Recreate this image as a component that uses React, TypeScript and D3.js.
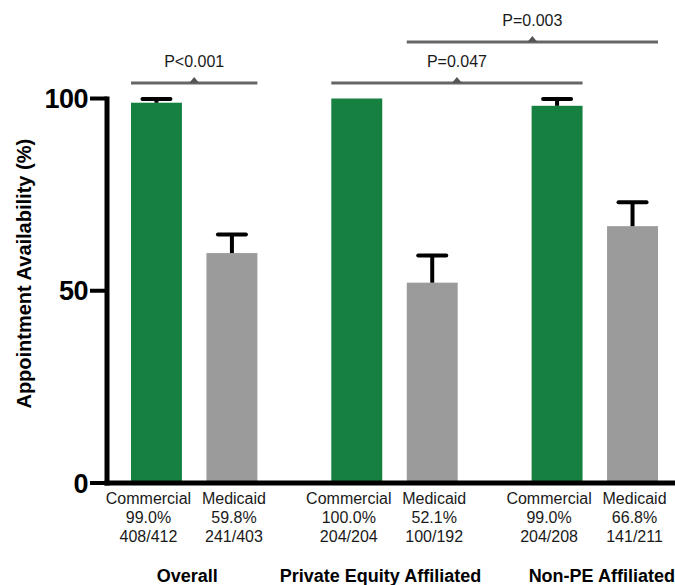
import React from "react";
import * as d3 from "d3";

const groups = ["Overall", "Private Equity Affiliated", "Non-PE Affiliated"];
const payers = ["Commercial", "Medicaid"];
// bar values (%) per group: [Commercial, Medicaid]
const commercialValues = [98.9, 100, 98.1];
const medicaidValues = [59.8, 52.1, 66.8];
// upper end of error bars (null = none drawn)
const commercialUpper = [99.9, null, 99.9];
const medicaidUpper = [64.6, 59.2, 73.0];
const commercialPct = ["99.0%", "100.0%", "99.0%"];
const medicaidPct = ["59.8%", "52.1%", "66.8%"];
const commercialN = ["408/412", "204/204", "204/208"];
const medicaidN = ["241/403", "100/192", "141/211"];
const yTicks = [0, 50, 100];
// comparisons: [fromGroup, fromPayer, toGroup, toPayer, level(%), label]
const compFrom = [[0, 0], [1, 0], [1, 1]];
const compTo = [[0, 1], [2, 0], [2, 1]];
const compLevel = [104, 104, 114.7];
const compLabel = ["P<0.001", "P=0.047", "P=0.003"];

const W = 675;
const H = 585;
const GREEN = "#15803f";
const GRAY = "#9b9b9b";
const groupLabelDx = [-7, -14, 7];
const payerLabelDx = [-8, 2];

export default function App() {
  const x0 = d3.scaleBand<number>().domain([0, 1, 2]).range([131, 658]).paddingInner(0.369).paddingOuter(0);
  const x1 = d3.scaleBand<number>().domain([0, 1]).range([0, x0.bandwidth()]).paddingInner(0.325).paddingOuter(0);
  const y = d3.scaleLinear().domain([0, 100]).range([483, 98.5]);
  const bw = x1.bandwidth();

  const bars: { g: number; p: number; v: number; up: number | null }[] = [];
  groups.forEach((_, g) => {
    bars.push({ g, p: 0, v: commercialValues[g], up: commercialUpper[g] });
    bars.push({ g, p: 1, v: medicaidValues[g], up: medicaidUpper[g] });
  });
  const bx = (g: number, p: number) => (x0(g) as number) + (x1(p) as number);

  const axisX = 107;
  const font = "Arial, 'Liberation Sans', Helvetica, sans-serif";

  return (
    <svg width={W} height={H} style={{ position: "absolute", left: 0, top: 0, display: "block", background: "#fff" }} fontFamily={font}>
      {/* bars */}
      {bars.map((b, i) => (
        <rect key={"b" + i} x={bx(b.g, b.p)} y={y(b.v)} width={bw} height={y(0) - y(b.v)} fill={b.p === 0 ? GREEN : GRAY} />
      ))}
      {/* error bars */}
      {bars.map((b, i) =>
        b.up == null ? null : (
          <g key={"e" + i} stroke="#000" strokeWidth={4}>
            <line x1={bx(b.g, b.p) + bw / 2} x2={bx(b.g, b.p) + bw / 2} y1={y(b.v)} y2={y(b.up)} />
            <line x1={bx(b.g, b.p) + bw / 2 - 14} x2={bx(b.g, b.p) + bw / 2 + 14} y1={y(b.up)} y2={y(b.up)} strokeLinecap="round" />
          </g>
        )
      )}
      {/* axes */}
      <line x1={axisX} x2={axisX} y1={y(100) - 2} y2={y(0) + 2.5} stroke="#000" strokeWidth={5} />
      <line x1={axisX - 2.5} x2={W} y1={y(0)} y2={y(0)} stroke="#000" strokeWidth={5} />
      {yTicks.map((t) => (
        <g key={"t" + t}>
          <line x1={90} x2={axisX} y1={y(t)} y2={y(t)} stroke="#000" strokeWidth={4} />
          <text x={88} y={y(t)} dy="0.36em" textAnchor="end" fontSize={27} fontWeight="bold" letterSpacing={-0.5} fill="#000">
            {t}
          </text>
        </g>
      ))}
      <text transform={`translate(31,${(y(0) + y(100)) / 2 - 17}) rotate(-90)`} textAnchor="middle" fontSize={20} fontWeight="bold" fill="#000">
        Appointment Availability (%)
      </text>
      {/* category labels */}
      {bars.map((b, i) => {
        const cx = bx(b.g, b.p) + bw / 2 + payerLabelDx[b.p];
        const pct = b.p === 0 ? commercialPct[b.g] : medicaidPct[b.g];
        const n = b.p === 0 ? commercialN[b.g] : medicaidN[b.g];
        return (
          <g key={"l" + i} fontSize={16} fill="#1a1a1a" textAnchor="middle">
            <text x={cx} y={503.5}>{payers[b.p]}</text>
            <text x={cx} y={523}>{pct}</text>
            <text x={cx} y={542}>{n}</text>
          </g>
        );
      })}
      {groups.map((g, i) => (
        <text key={"g" + i} x={(x0(i) as number) + x0.bandwidth() / 2 + groupLabelDx[i]} y={582} textAnchor="middle" fontSize={18} fontWeight="bold" fill="#000">
          {g}
        </text>
      ))}
      {/* comparison brackets */}
      {compLabel.map((lab, i) => {
        const xa = bx(compFrom[i][0], compFrom[i][1]);
        const xb = bx(compTo[i][0], compTo[i][1]) + bw;
        const yy = y(compLevel[i]);
        const cx = (xa + xb) / 2;
        return (
          <g key={"c" + i}>
            <line x1={xa} x2={xb} y1={yy} y2={yy} stroke="#666" strokeWidth={3} />
            <path d={`M${cx - 5},${yy} L${cx},${yy - 6} L${cx + 5},${yy} Z`} fill="#555" />
            <text x={cx} y={yy - 16} textAnchor="middle" fontSize={16} fill="#1a1a1a">
              {lab}
            </text>
          </g>
        );
      })}
    </svg>
  );
}
